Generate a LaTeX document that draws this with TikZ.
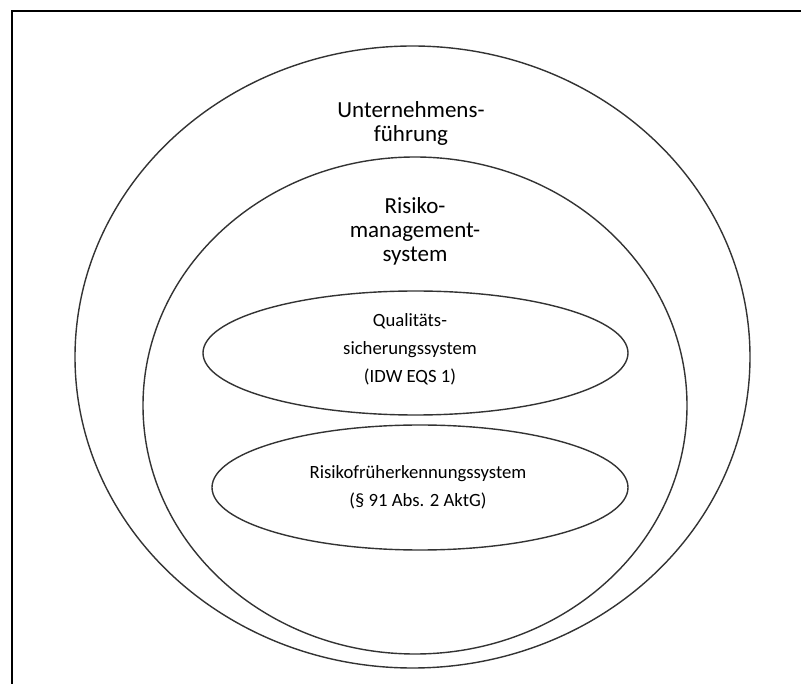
\documentclass[tikz,border=0pt]{standalone}
\usepackage{fontspec}
\setmainfont{Carlito}
\usetikzlibrary{shapes.geometric}
\begin{document}
\begin{tikzpicture}[x=1pt,y=-1pt,
  ring/.style={draw=black!80, line width=1.4pt, ellipse, inner sep=0pt},
  bigtext/.style={align=center, font=\fontsize{23}{24}\selectfont, inner sep=0pt},
  smalltext/.style={align=center, font=\fontsize{18.7}{28}\selectfont, inner sep=0pt}]
  \useasboundingbox (0,0) rectangle (801,684);
  % frame (left and top edges)
  \coordinate (fbl) at (12,684);
  \coordinate (ftl) at (12,11);
  \coordinate (ftr) at (801,11);
  \draw[line width=2.2pt, line cap=rect] (fbl) -- (ftl) -- (ftr);
  % nested shapes
  \node[ring, minimum width=675pt, minimum height=622pt] (outer) at (412.5,357) {};
  \node[ring, minimum width=544pt, minimum height=497pt] (inner) at (415,405.5) {};
  \node[ring, minimum width=425pt, minimum height=124pt] (qss) at (415.5,353) {};
  \node[ring, minimum width=416pt, minimum height=125pt] (rfs) at (420,487.5) {};
  % labels
  \node[bigtext] (tuf) at (411,123.5) {Unternehmens-\\führung};
  \node[bigtext] (trms) at (415,231) {Risiko-\\management-\\system};
  \node[smalltext] (tqss) at (410,349.5) {Qualitäts-\\sicherungssystem\\(IDW EQS 1)};
  \node[smalltext] (trfs) at (418,487.5) {Risikofrüherkennungssystem\\(§ 91 Abs. 2 AktG)};
\end{tikzpicture}
\end{document}
